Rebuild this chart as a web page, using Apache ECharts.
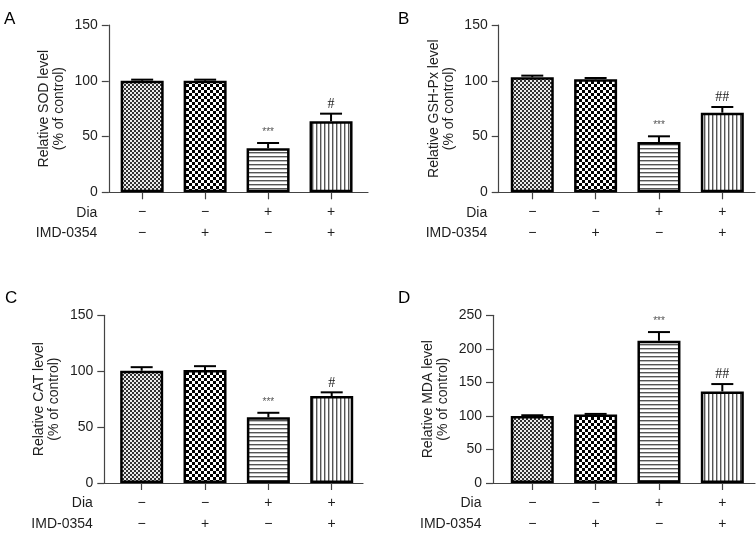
<!DOCTYPE html>
<html><head><meta charset="utf-8">
<script src="https://cdn.jsdelivr.net/npm/echarts@6/dist/echarts.min.js"></script>
<style>html,body{margin:0;padding:0;background:#fff}#c{width:756px;height:534px}</style>
</head><body><div id="c"></div><script>
// ---- data ----
const categories = ['Control', 'IMD-0354', 'Dia', 'Dia+IMD-0354'];
const diaRow = ['−', '−', '+', '+'];
const imdRow = ['−', '+', '−', '+'];
const sodMean = [100, 100, 39.5, 63.7];
const sodErr  = [1, 1, 4.7, 6.8];
const sodMark = ['', '', '***', '#'];
const gshMean = [103.1, 101.3, 45.1, 71.4];
const gshErr  = [1.5, 1.2, 5.1, 5.1];
const gshMark = ['', '', '***', '##'];
const catMean = [100.4, 101, 58.8, 77.8];
const catErr  = [3.2, 3.5, 4, 3.3];
const catMark = ['', '', '***', '#'];
const mdaMean = [100, 102, 212, 136.5];
const mdaErr  = [1, 1, 13, 11];
const mdaMark = ['', '', '***', '##'];
const yTicksA = [0, 50, 100, 150];
const yTicksD = [0, 50, 100, 150, 200, 250];
const rowNames = ['Dia', 'IMD-0354'];
const panelLetters = ['A', 'B', 'C', 'D'];
const yTitles = ['Relative SOD level', 'Relative GSH-Px level', 'Relative CAT level', 'Relative MDA level'];

// ---- patterns ----
function makePattern(kind) {
  const c = document.createElement('canvas');
  const x = c.getContext('2d');
  if (kind === 'fine') {
    c.width = 4; c.height = 4;
    x.fillStyle = '#ececec'; x.fillRect(0, 0, 4, 4);
    x.fillStyle = '#333'; x.fillRect(0, 0, 2, 2); x.fillRect(2, 2, 2, 2);
  } else if (kind === 'checker') {
    c.width = 6; c.height = 6;
    x.fillStyle = '#fff'; x.fillRect(0, 0, 6, 6);
    x.fillStyle = '#000'; x.fillRect(0, 0, 3, 3); x.fillRect(3, 3, 3, 3);
  } else if (kind === 'hlines') {
    c.width = 4; c.height = 4;
    x.fillStyle = '#fff'; x.fillRect(0, 0, 4, 4);
    x.fillStyle = '#555'; x.fillRect(0, 0, 4, 1);
    x.fillStyle = '#bbb'; x.fillRect(0, 1, 4, 1);
  } else {
    c.width = 4; c.height = 4;
    x.fillStyle = '#fff'; x.fillRect(0, 0, 4, 4);
    x.fillStyle = '#555'; x.fillRect(0, 0, 1, 4);
    x.fillStyle = '#bbb'; x.fillRect(1, 0, 1, 4);
  }
  return { image: c, repeat: 'repeat' };
}
const patterns = ['fine', 'checker', 'hlines', 'vlines'].map(makePattern);

const FONT = "'Liberation Sans', Arial, Helvetica, sans-serif";
const TXT = '#1e1e1e';
const AX = '#444';

const panels = [
  { mean: sodMean, err: sodErr, mark: sodMark, left: 108.8, top: 25, height: 167.3, xmin: -0.53, xmax: 3.587, width: 259.2, ymax: 150, ticks: yTicksA },
  { mean: gshMean, err: gshErr, mark: gshMark, left: 498.7, top: 25, height: 167.3, xmin: -0.53, xmax: 3.516, width: 256.3, ymax: 150, ticks: yTicksA },
  { mean: catMean, err: catErr, mark: catMark, left: 104.3, top: 315.3, height: 167.7, xmin: -0.59, xmax: 3.494, width: 258.7, ymax: 150, ticks: yTicksA },
  { mean: mdaMean, err: mdaErr, mark: mdaMark, left: 493, top: 315.3, height: 167.7, xmin: -0.62, xmax: 3.516, width: 262, ymax: 250, ticks: yTicksD }
];

const grid = [], xAxis = [], yAxis = [], series = [], graphic = [];
panels.forEach((p, i) => {
  grid.push({ left: p.left, top: p.top, width: p.width, height: p.height, containLabel: false });
  xAxis.push({
    gridIndex: i, type: 'value', min: p.xmin, max: p.xmax,
    splitLine: { show: false },
    axisLine: { show: true, onZero: false, lineStyle: { color: AX, width: 1.2 } },
    axisTick: { show: true, length: 7, customValues: [0, 1, 2, 3], lineStyle: { color: AX, width: 1.2 } },
    axisLabel: {
      customValues: [0, 1, 2, 3], margin: 10,
      formatter: v => { const k = Math.round(v); return diaRow[k] + '\n' + imdRow[k]; },
      fontFamily: FONT, fontSize: 14, lineHeight: 20.5, color: TXT
    }
  });
  yAxis.push({
    gridIndex: i, type: 'value', min: 0, max: p.ymax, interval: 50,
    splitLine: { show: false },
    axisLine: { show: true, onZero: false, lineStyle: { color: AX, width: 1.2 } },
    axisTick: { show: true, length: 7, lineStyle: { color: AX, width: 1.2 } },
    axisLabel: { margin: 11, fontFamily: FONT, fontSize: 14, color: TXT },
    name: yTitles[i] + '\n(% of control)', nameLocation: 'middle', nameGap: 42.5, nameRotate: 90,
    nameTextStyle: { fontFamily: FONT, fontSize: 14, lineHeight: 15, color: TXT, align: 'center' }
  });
  series.push({
    type: 'bar', xAxisIndex: i, yAxisIndex: i, barWidth: 43, silent: true,
    data: p.mean.map((v, k) => ({ value: [k, v], itemStyle: { color: patterns[k], borderColor: '#000', borderWidth: 2.5 } })),
    z: 2
  });
  series.push({
    type: 'custom', xAxisIndex: i, yAxisIndex: i, silent: true, z: 3,
    data: p.mean.map((v, k) => [k, v, p.err[k], k]),
    renderItem: (params, api) => {
      const k = api.value(3);
      const base = api.coord([api.value(0), api.value(1)]);
      const top = api.coord([api.value(0), api.value(1) + api.value(2)]);
      const children = [
        { type: 'line', shape: { x1: base[0], y1: base[1], x2: top[0], y2: top[1] }, style: { stroke: '#000', lineWidth: 2 } },
        { type: 'line', shape: { x1: top[0] - 11, y1: top[1], x2: top[0] + 11, y2: top[1] }, style: { stroke: '#000', lineWidth: 2 } }
      ];
      const m = p.mark[k];
      if (m) {
        const star = m[0] === '*';
        children.push({
          type: 'text', x: top[0], y: top[1] - (star ? 11 : 9.5),
          style: {
            text: m, align: 'center', verticalAlign: 'middle',
            font: star ? ('10px ' + FONT) : ("14px 'Liberation Serif', 'Times New Roman', serif"),
            fill: star ? '#555' : '#222'
          }
        });
      }
      return { type: 'group', children };
    }
  });
  const zeroY = p.top + p.height;
  const labRight = p.left - 11.5;
  rowNames.forEach((r, j) => {
    graphic.push({ type: 'text', x: labRight, y: zeroY + 20.5 + j * 20.5,
      style: { text: r, align: 'right', verticalAlign: 'middle', font: '14px ' + FONT, fill: TXT } });
  });
});
const letterPos = [[4, 19], [398, 19], [5, 298], [398, 298]];
panelLetters.forEach((L, i) => {
  graphic.push({ type: 'text', x: letterPos[i][0], y: letterPos[i][1],
    style: { text: L, align: 'left', verticalAlign: 'middle', font: '17px ' + FONT, fill: '#000' } });
});

const chart = echarts.init(document.getElementById('c'), null, { renderer: 'canvas' });
chart.setOption({ animation: false, backgroundColor: '#fff', grid, xAxis, yAxis, series, graphic });
</script></body></html>
